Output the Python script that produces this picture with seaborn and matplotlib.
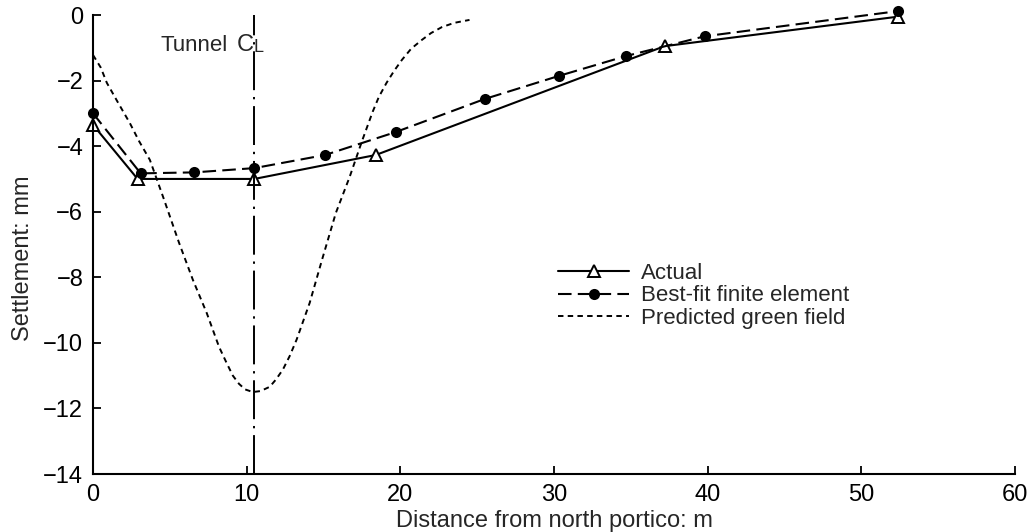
import matplotlib
matplotlib.use("Agg")
import matplotlib.pyplot as plt
import seaborn as sns
import pandas as pd

# measured settlement (open triangles)
actual_x = [0.0, 2.9, 10.5, 18.4, 37.2, 52.4]
actual_y = [-3.35, -5.0, -5.0, -4.27, -0.95, -0.05]

# best-fit finite element (filled dots)
fe_x = [0.0, 3.1, 6.6, 10.5, 15.1, 19.7, 25.5, 30.3, 34.7, 39.8, 52.4]
fe_y = [-3.0, -4.83, -4.8, -4.67, -4.27, -3.57, -2.56, -1.86, -1.25, -0.65, 0.12]

# predicted green field trough
gf_x = [0.0, 0.5, 0.9, 1.6, 2.4, 3.0, 3.7, 4.6, 5.6, 6.5, 7.4, 8.2, 8.7, 9.1,
        9.5, 9.9, 10.4, 10.9, 11.5, 11.9, 12.35, 12.8, 13.25, 14.1, 14.9,
        15.8, 16.7, 17.5, 18.2, 18.6, 19.1, 19.6, 20.1, 20.7, 21.4, 22.0,
        22.7, 23.5, 24.5]
gf_y = [-1.22, -1.6, -2.07, -2.65, -3.3, -3.85, -4.42, -5.6, -6.95, -8.08,
        -9.09, -10.12, -10.62, -11.0, -11.25, -11.42, -11.5, -11.47, -11.34,
        -11.12, -10.82, -10.4, -9.9, -8.78, -7.47, -6.04, -4.94, -3.85, -2.95,
        -2.5, -2.07, -1.7, -1.37, -1.03, -0.76, -0.55, -0.37, -0.24, -0.15]

tunnel_x = 10.5
x_ticks = [0, 10, 20, 30, 40, 50, 60]
y_ticks = [0, -2, -4, -6, -8, -10, -12, -14]

sns.set_style("ticks")
plt.rcParams["font.family"] = ["Liberation Sans", "DejaVu Sans"]
fs = 16

fig = plt.figure(figsize=(10.29, 5.32), dpi=100)
ax = fig.add_axes([0.0904, 0.109, 0.8960, 0.8628])

df_act = pd.DataFrame({"x": actual_x, "y": actual_y})
df_fe = pd.DataFrame({"x": fe_x, "y": fe_y})
df_gf = pd.DataFrame({"x": gf_x, "y": gf_y})

sns.lineplot(data=df_act, x="x", y="y", ax=ax, sort=False, color="black",
             lw=1.5, marker="^", markersize=8, markerfacecolor="white",
             markeredgecolor="black", markeredgewidth=1.4, label="Actual")
sns.lineplot(data=df_fe, x="x", y="y", ax=ax, sort=False, color="black",
             lw=1.5, marker="o", markersize=8, markeredgewidth=0,
             dashes=False, label="Best-fit finite element")
ax.lines[-1].set_dashes([6.5, 3])
sns.lineplot(data=df_gf, x="x", y="y", ax=ax, sort=False, color="black",
             lw=1.4, label="Predicted green field")
ax.lines[-1].set_dashes([2.8, 2.2])
for ln in ax.lines:
    ln.set_clip_on(False)

# tunnel centre line
ax.axvline(tunnel_x, ymin=0, ymax=1, color="black", lw=1.4,
           dashes=[20, 3.5, 1.2, 3.5])
ax.text(tunnel_x - 1.7, -0.92, "Tunnel", ha="right", va="center", fontsize=fs)
ax.text(tunnel_x - 0.6, -0.9, "C", ha="center", va="center", fontsize=fs + 1)
ax.text(tunnel_x + 0.3, -1.0, "L", ha="center", va="center", fontsize=fs - 3)

ax.set_xlim(0, 60)
ax.set_ylim(-14, 0)
ax.set_xticks(x_ticks)
ax.set_yticks(y_ticks)
ax.tick_params(direction="in", length=6, width=1.3, labelsize=fs + 1,
               color="black", labelcolor="black")
ax.tick_params(axis="x", pad=7)
ax.tick_params(axis="y", pad=7)
for side in ["top", "right"]:
    ax.spines[side].set_visible(False)
for side in ["left", "bottom"]:
    ax.spines[side].set_linewidth(1.5)
    ax.spines[side].set_color("black")

ax.set_xlabel("Distance from north portico: m", fontsize=fs + 1, labelpad=3)
ax.set_ylabel("Settlement: mm", fontsize=fs + 1)
ax.yaxis.set_label_coords(-0.064, 0.47)

leg = ax.legend(loc="upper left", bbox_to_anchor=(0.495, 0.48), frameon=False,
                fontsize=fs, handlelength=3.2, handletextpad=0.5,
                labelspacing=0.08, borderaxespad=0)

fig.savefig("out.png", dpi=100)
